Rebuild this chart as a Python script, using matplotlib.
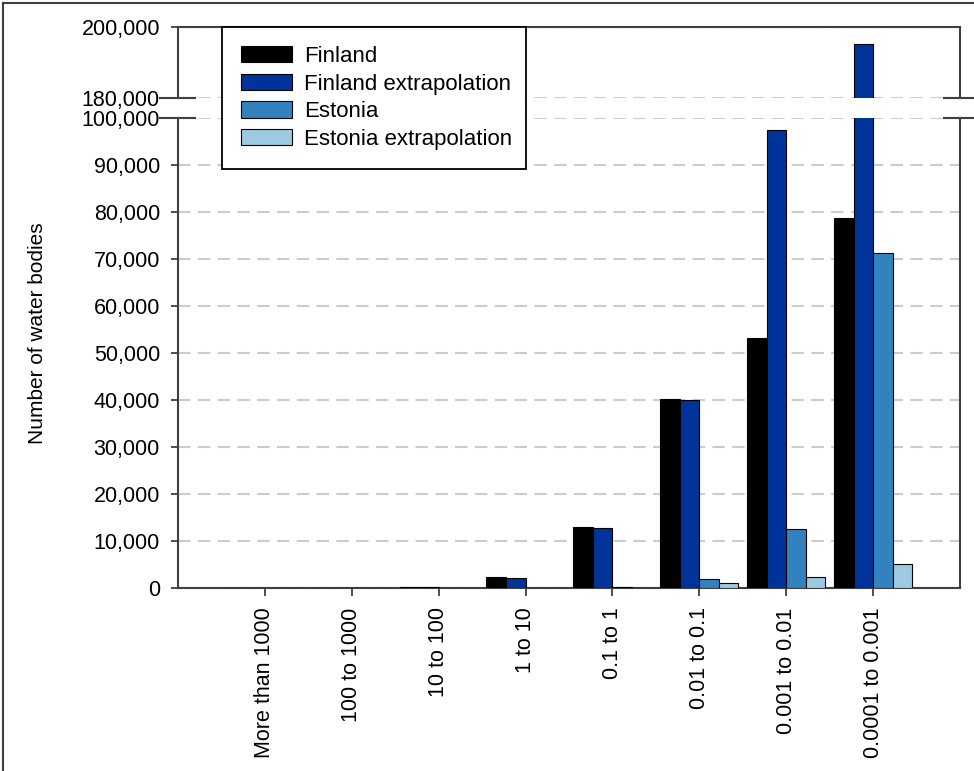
import numpy as np
import matplotlib
matplotlib.use('Agg')
import matplotlib.pyplot as plt
from matplotlib.lines import Line2D
from matplotlib.ticker import FuncFormatter

plt.rcParams['font.family'] = ['Liberation Sans', 'DejaVu Sans']

# data
categories = ['More than 1000', '100 to 1000', '10 to 100', '1 to 10',
              '0.1 to 1', '0.01 to 0.1', '0.001 to 0.01', '0.0001 to 0.001']
finland = [0, 0, 300, 2300, 13000, 40200, 53200, 78700]
finland_ext = [0, 0, 300, 2200, 12800, 40000, 97400, 195300]
estonia = [0, 0, 0, 0, 150, 1900, 12600, 71300]
estonia_ext = [0, 0, 0, 0, 100, 1060, 2400, 5200]

series = [('Finland', finland, '#000000'),
          ('Finland extrapolation', finland_ext, '#003399'),
          ('Estonia', estonia, '#3182bd'),
          ('Estonia extrapolation', estonia_ext, '#9ecae1')]

W, H = 974, 771
fig = plt.figure(figsize=(W / 100, H / 100), dpi=100)

def fx(px):
    return px / W

def fy(py):
    return 1 - py / H

left, right = 178, 960
ax_lo = fig.add_axes([fx(left), fy(588), fx(right - left), (588 - 118) / H])
ax_hi = fig.add_axes([fx(left), fy(98), fx(right - left), (98 - 27) / H])

x = np.arange(len(categories))
w = 0.225
spine_c = '#404040'
grid_kw = dict(color='#cccccc', linewidth=1.5, linestyle=(0, (6, 3.5)))

for ax in (ax_lo, ax_hi):
    for i, (name, vals, col) in enumerate(series):
        ax.bar(x + (i - 1.5) * w, vals, w, color=col, edgecolor='black',
               linewidth=0.8, label=name, zorder=3)
    ax.set_xlim(-1, 8)
    ax.yaxis.set_major_formatter(FuncFormatter(lambda v, p: f'{int(v):,}'))
    ax.tick_params(axis='y', direction='out', length=5, width=1.3,
                   color=spine_c, labelsize=15.5, pad=8)
    ax.yaxis.grid(True, **grid_kw)
    ax.set_axisbelow(True)
    for s in ax.spines.values():
        s.set_color(spine_c)
        s.set_linewidth(1.5)

ax_lo.set_ylim(0, 100000)
ax_lo.set_yticks(np.arange(0, 100001, 10000))
ax_lo.spines['top'].set_visible(False)
ax_lo.set_xticks(x)
ax_lo.set_xticklabels(categories, rotation=90, fontsize=15.5)
ax_lo.tick_params(axis='x', direction='out', length=6, width=1.3,
                  color=spine_c, pad=8)

ax_hi.set_ylim(180000, 200000)
ax_hi.set_yticks([180000, 200000])
ax_hi.spines['bottom'].set_visible(False)
ax_hi.set_xticks([])

# break marks across the spines
for ax, yy in ((ax_hi, 0), (ax_lo, 1)):
    for x0, x1 in ((-0.023, 0.022), (0.98, 1.02)):
        ax.add_line(Line2D([x0, x1], [yy, yy], transform=ax.transAxes,
                           color=spine_c, linewidth=1.5, clip_on=False))

fig.text(fx(38), fy(333), 'Number of water bodies', rotation=90,
         fontsize=15, ha='center', va='center')

handles, labels = ax_lo.get_legend_handles_labels()
leg = fig.legend(handles, labels, loc='upper left',
                 bbox_to_anchor=(fx(222), fy(165), fx(526 - 222), (165 - 27) / H),
                 mode='expand', fontsize=16,
                 frameon=True, fancybox=False, edgecolor='black',
                 framealpha=1, borderpad=0.85, handlelength=2.3,
                 handleheight=0.75, handletextpad=0.55, labelspacing=0.3,
                 borderaxespad=0)
leg.get_frame().set_linewidth(1.3)

# outer frame (left and top edges visible)
fig.add_artist(Line2D([fx(3), fx(3)], [0, fy(3)], color='#404040', linewidth=1.5))
fig.add_artist(Line2D([fx(3), 1], [fy(3), fy(3)], color='#404040', linewidth=1.5))

fig.savefig('out.png', dpi=100)
